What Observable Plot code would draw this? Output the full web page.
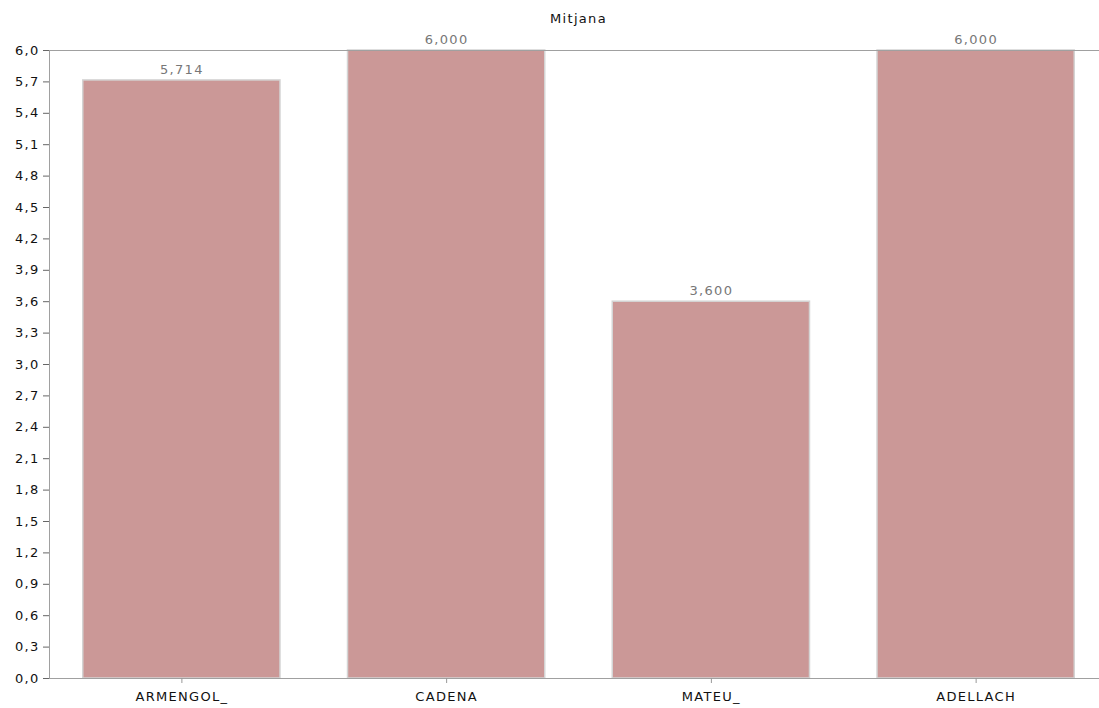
<!DOCTYPE html>
<html>
<head>
<meta charset="utf-8">
<script src="https://cdn.jsdelivr.net/npm/d3@7"></script>
<script src="https://cdn.jsdelivr.net/npm/@observablehq/plot@0.6"></script>
<style>
  body { margin: 0; background: #fff; }
  #chart { width: 1099px; height: 708px; }
  #chart svg text { letter-spacing: 1.3px; }
</style>
</head>
<body>
<div id="chart"></div>
<script>
const categories = ["ARMENGOL_", "CADENA", "MATEU_", "ADELLACH"];
const values = [5.714, 6.0, 3.6, 6.0];
const yTicks = [0, 0.3, 0.6, 0.9, 1.2, 1.5, 1.8, 2.1, 2.4, 2.7, 3.0, 3.3, 3.6, 3.9, 4.2, 4.5, 4.8, 5.1, 5.4, 5.7, 6.0];
const title = "Mitjana";

const data = categories.map((c, i) => ({name: c, value: values[i]}));
const fmt1 = d => d.toFixed(1).replace(".", ",");
const fmt3 = d => d.toFixed(3).replace(".", ",");

const chart = Plot.plot({
  width: 1099,
  height: 708,
  marginTop: 50,
  marginBottom: 30,
  marginLeft: 49,
  marginRight: 0,
  style: {fontFamily: "DejaVu Sans, Verdana, sans-serif", fontSize: "13px", color: "#000"},
  x: {domain: categories, range: [49, 1108], round: false, paddingInner: 0.255, paddingOuter: 0.1275, align: 0.5},
  y: {domain: [0, 6], range: [678, 50]},
  marks: [
    Plot.barY(data, {x: "name", y: "value", fill: "#cb9897", stroke: "#d4d4d4", strokeWidth: 1.5}),
    Plot.ruleY([0, 6], {stroke: "#a0a0a0", strokeWidth: 1}),
    Plot.frame({anchor: "left", stroke: "#a0a0a0"}),
    Plot.axisY({ticks: yTicks, tickFormat: fmt1, tickSize: 6, tickPadding: 4, stroke: "#666", strokeOpacity: 1, fill: "#111", label: null, fontSize: 13}),
    Plot.axisX({tickSize: 5, tickPadding: 8, stroke: "#999", strokeOpacity: 1, fill: "#111", label: null, fontSize: 13}),
    Plot.text(data, {x: "name", y: "value", text: d => fmt3(d.value), dy: -11, fill: "#777", fontSize: 13}),
    Plot.text([title], {frameAnchor: "top", dy: -37, dx: 4, fill: "#111", fontSize: 13})
  ]
});
document.getElementById("chart").appendChild(chart);
</script>
</body>
</html>
